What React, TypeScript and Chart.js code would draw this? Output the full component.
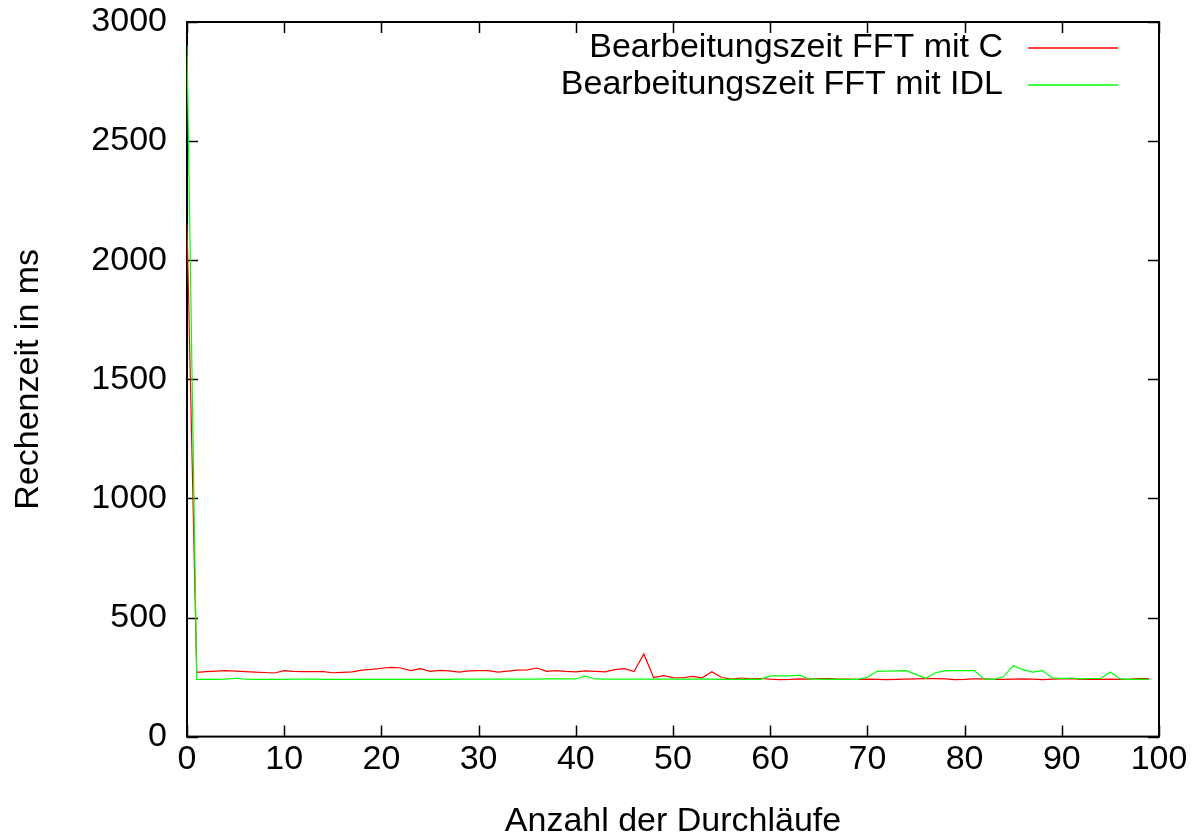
import React, { useEffect, useRef } from 'react';
import { Chart, registerables } from 'chart.js';

Chart.register(...registerables);

const FONT = "'Liberation Sans', Arial, Helvetica, sans-serif";
const FONT_SIZE = 34;

// Run numbers (x categories)
const runs: number[] = Array.from({ length: 100 }, (_, i) => i);

// Bearbeitungszeit FFT mit C (ms)
const timeC: number[] = [
  2150, 270, 273, 275, 277, 275, 273, 271, 269, 267,
  277, 274, 273, 273, 273, 268, 270, 272, 279, 282,
  287, 291, 288, 277, 285, 274, 278, 276, 271, 276,
  277, 277, 271, 275, 279, 280, 288, 274, 277, 274,
  272, 276, 274, 272, 281, 285, 273, 347, 248, 256,
  248, 247, 253, 247, 272, 248, 241, 246, 242, 244,
  241, 239, 240, 242, 241, 244, 243, 241, 241, 240,
  241, 240, 239, 240, 241, 242, 243, 243, 242, 239,
  240, 242, 242, 240, 240, 241, 242, 241, 239, 241,
  242, 243, 240, 241, 240, 241, 240, 241, 244, 244,
];

// Bearbeitungszeit FFT mit IDL (ms)
const timeIDL: number[] = [
  2900, 240, 240, 240, 241, 245, 241, 240, 240, 240,
  240, 241, 241, 241, 240, 240, 240, 240, 240, 240,
  240, 240, 240, 240, 240, 240, 240, 240, 241, 241,
  241, 241, 241, 241, 241, 241, 241, 242, 242, 242,
  242, 254, 242, 241, 241, 241, 241, 241, 241, 241,
  241, 241, 241, 241, 241, 240, 240, 240, 240, 240,
  255, 255, 255, 258, 242, 241, 240, 240, 240, 240,
  249, 274, 275, 276, 277, 261, 245, 268, 276, 277,
  277, 277, 242, 240, 251, 298, 281, 271, 277, 247,
  243, 246, 242, 244, 244, 271, 242, 240, 240, 240,
];

const xTickValues: number[] = [0, 10, 20, 30, 40, 50, 60, 70, 80, 90, 100];
const yTickValues: number[] = [0, 500, 1000, 1500, 2000, 2500, 3000];

const seriesLabels: string[] = ['Bearbeitungszeit FFT mit C', 'Bearbeitungszeit FFT mit IDL'];
const seriesColors: string[] = ['#ff0000', '#00ff00'];

const gnuplotFrame = {
  id: 'gnuplotFrame',
  beforeDatasetsDraw(chart: any) {
    const { ctx, chartArea: a, scales } = chart;
    const tl = 11;
    ctx.save();
    ctx.strokeStyle = '#000';
    ctx.lineWidth = 1.5;
    ctx.beginPath();
    for (const v of xTickValues) {
      const px = Math.round(scales.x.getPixelForValue(v)) + 0.5;
      ctx.moveTo(px, a.bottom);
      ctx.lineTo(px, a.bottom - tl);
      ctx.moveTo(px, a.top);
      ctx.lineTo(px, a.top + tl);
    }
    for (const v of yTickValues) {
      const py = Math.round(scales.y.getPixelForValue(v)) + 0.5;
      ctx.moveTo(a.left, py);
      ctx.lineTo(a.left + tl, py);
      ctx.moveTo(a.right, py);
      ctx.lineTo(a.right - tl, py);
    }
    ctx.stroke();
    ctx.lineWidth = 2;
    ctx.strokeRect(a.left, a.top, a.right - a.left, a.bottom - a.top);
    ctx.restore();
  },
  afterDatasetsDraw(chart: any) {
    const { ctx, chartArea: a } = chart;
    ctx.save();
    ctx.font = `${FONT_SIZE}px ${FONT}`;
    ctx.fillStyle = '#000';
    ctx.textAlign = 'right';
    ctx.textBaseline = 'middle';
    const textRight = 1003;
    const lineStart = 1028;
    const lineEnd = 1118;
    const rows = [a.top + 26, a.top + 63];
    seriesLabels.forEach((lbl, i) => {
      ctx.fillText(lbl, textRight, rows[i]);
      ctx.strokeStyle = seriesColors[i];
      ctx.lineWidth = 1.3;
      ctx.beginPath();
      ctx.moveTo(lineStart, rows[i]);
      ctx.lineTo(lineEnd, rows[i]);
      ctx.stroke();
    });
    ctx.restore();
  },
};

export default function App() {
  const canvasRef = useRef<HTMLCanvasElement | null>(null);

  useEffect(() => {
    if (!canvasRef.current) return;
    const font = { family: FONT, size: FONT_SIZE, lineHeight: 1.2 };
    const chart = new Chart(canvasRef.current, {
      type: 'line',
      data: {
        datasets: [
          {
            label: seriesLabels[0],
            data: runs.map((r, i) => ({ x: r, y: timeC[i] })),
            borderColor: seriesColors[0],
            borderWidth: 1.2,
            pointRadius: 0,
            tension: 0,
            fill: false,
            order: 1,
          },
          {
            label: seriesLabels[1],
            data: runs.map((r, i) => ({ x: r, y: timeIDL[i] })),
            borderColor: seriesColors[1],
            borderWidth: 1.2,
            pointRadius: 0,
            tension: 0,
            fill: false,
            order: 0,
          },
        ],
      },
      options: {
        responsive: false,
        animation: false,
        devicePixelRatio: 1,
        layout: { padding: { top: 22, right: 43, left: 0, bottom: 0 } },
        plugins: {
          legend: { display: false },
          tooltip: { enabled: false },
        },
        scales: {
          x: {
            type: 'linear',
            min: 0,
            max: 100,
            afterBuildTicks: (s: any) => {
              s.ticks = xTickValues.map((v) => ({ value: v }));
            },
            afterFit: (s: any) => {
              s.height = 101.4;
              s.paddingLeft = 0;
              s.paddingRight = 0;
            },
            ticks: {
              font,
              color: '#000',
              padding: 3,
              maxRotation: 0,
              autoSkip: false,
              callback: (v: any) => String(v),
            },
            grid: { display: false, drawTicks: false, tickLength: 0 },
            border: { display: false },
            title: {
              display: true,
              text: 'Anzahl der Durchläufe',
              color: '#000',
              font: { family: FONT, size: FONT_SIZE, lineHeight: 1.0 },
              padding: { top: 0, bottom: -1 },
            },
          },
          y: {
            type: 'linear',
            min: 0,
            max: 3000,
            afterBuildTicks: (s: any) => {
              s.ticks = yTickValues.map((v) => ({ value: v }));
            },
            afterFit: (s: any) => {
              s.width = 187;
              s.paddingTop = 0;
              s.paddingBottom = 0;
            },
            ticks: {
              font,
              color: '#000',
              padding: 20,
              autoSkip: false,
              callback: (v: any) => String(v),
            },
            grid: { display: false, drawTicks: false, tickLength: 0 },
            border: { display: false },
            title: {
              display: true,
              text: 'Rechenzeit in ms',
              color: '#000',
              font: { family: FONT, size: FONT_SIZE, lineHeight: 1.2 },
              padding: { top: 8, bottom: 0 },
            },
          },
        },
      },
      plugins: [gnuplotFrame],
    } as any);
    return () => chart.destroy();
  }, []);

  return (
    <div style={{ position: 'absolute', left: 0, top: 0, width: 1202, height: 838, background: '#fff' }}>
      <canvas ref={canvasRef} width={1202} height={838} />
    </div>
  );
}
